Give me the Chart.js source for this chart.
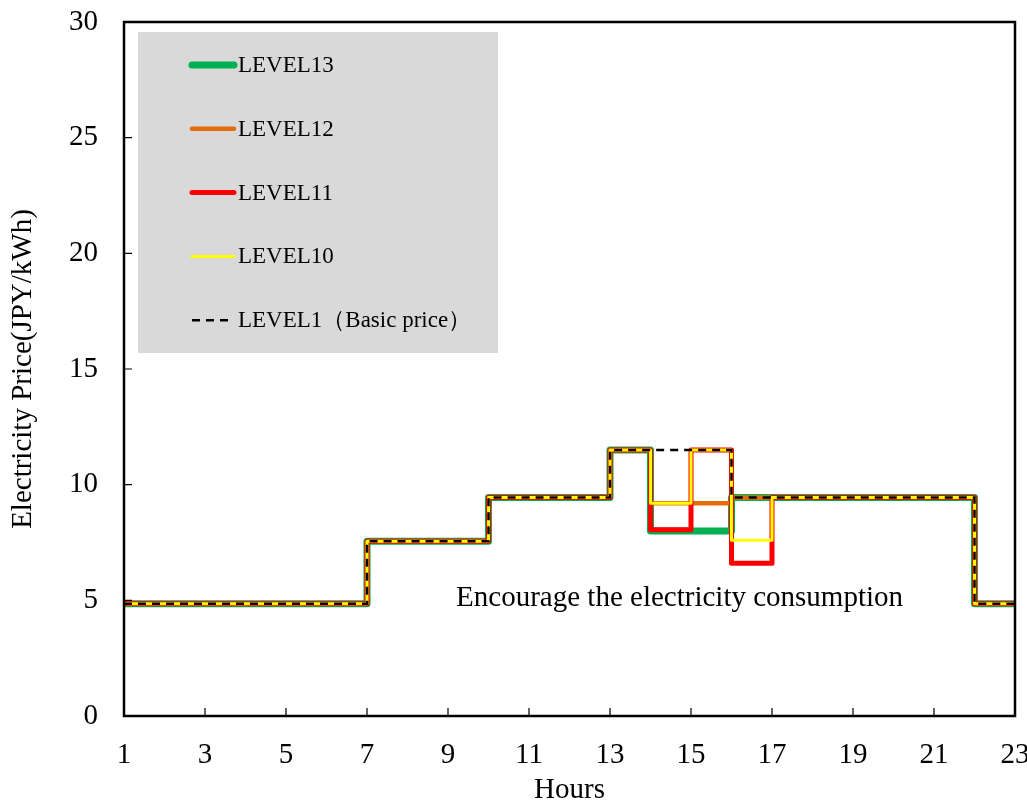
<!DOCTYPE html>
<html>
<head>
<meta charset="utf-8">
<script src="https://cdn.jsdelivr.net/npm/chart.js@4.4.2/dist/chart.umd.min.js"></script>
<style>
  html, body { margin: 0; padding: 0; background: #fff; }
</style>
</head>
<body>
<canvas id="priceChart" width="1027" height="802"></canvas>
<script>
const serif = "'Liberation Serif', 'Times New Roman', serif";

const hours = [1, 2, 3, 4, 5, 6, 7, 8, 9, 10, 11, 12, 13, 14, 15, 16, 17, 18, 19, 20, 21, 22, 23];
// price from each hour until the next one
const level13 = [4.85, 4.85, 4.85, 4.85, 4.85, 4.85, 7.55, 7.55, 7.55, 9.45, 9.45, 9.45, 11.5, 8.0, 8.0, 9.45, 9.45, 9.45, 9.45, 9.45, 9.45, 4.85, 4.85];
const level12 = [4.85, 4.85, 4.85, 4.85, 4.85, 4.85, 7.55, 7.55, 7.55, 9.45, 9.45, 9.45, 11.5, 9.2, 9.2, 9.45, 9.45, 9.45, 9.45, 9.45, 9.45, 4.85, 4.85];
const level11 = [4.85, 4.85, 4.85, 4.85, 4.85, 4.85, 7.55, 7.55, 7.55, 9.45, 9.45, 9.45, 11.5, 8.05, 11.5, 6.6, 9.45, 9.45, 9.45, 9.45, 9.45, 4.85, 4.85];
const level10 = [4.85, 4.85, 4.85, 4.85, 4.85, 4.85, 7.55, 7.55, 7.55, 9.45, 9.45, 9.45, 11.5, 9.2, 11.5, 7.6, 9.45, 9.45, 9.45, 9.45, 9.45, 4.85, 4.85];
const level1 = [4.85, 4.85, 4.85, 4.85, 4.85, 4.85, 7.55, 7.55, 7.55, 9.45, 9.45, 9.45, 11.5, 11.5, 11.5, 9.45, 9.45, 9.45, 9.45, 9.45, 9.45, 4.85, 4.85];

const seriesLabels = ['LEVEL13', 'LEVEL12', 'LEVEL11', 'LEVEL10', 'LEVEL1（Basic price）'];
const xTicks = [1, 3, 5, 7, 9, 11, 13, 15, 17, 19, 21, 23];
const yTicks = [0, 5, 10, 15, 20, 25, 30];

const noteText = 'Encourage the electricity consumption';
const noteAt = { x: 9.2, y: 5.1 };

const toPoints = values => values.map((v, i) => ({ x: hours[i], y: v }));

const stepLine = (label, values, color, width, order, dash) => ({
  label: label,
  data: toPoints(values),
  borderColor: color,
  backgroundColor: color,
  borderWidth: width,
  borderDash: dash || [],
  borderJoinStyle: dash ? 'miter' : 'round',
  stepped: 'before',
  pointRadius: 0,
  fill: false,
  order: order
});

// legend inside the plot, grey box top-left
const legendBox = {
  id: 'legendBox',
  afterDatasetsDraw(chart) {
    const { ctx, chartArea } = chart;
    const x0 = chartArea.left + 14;
    const y0 = chartArea.top + 10;
    ctx.save();
    ctx.fillStyle = '#d9d9d9';
    ctx.fillRect(x0, y0, 360, 321);
    chart.data.datasets.forEach((ds, i) => {
      const y = y0 + 33 + i * 63.8;
      ctx.beginPath();
      ctx.strokeStyle = ds.borderColor;
      ctx.lineWidth = ds.borderWidth;
      ctx.setLineDash(ds.borderDash);
      ctx.lineCap = ds.borderDash.length ? 'butt' : 'round';
      ctx.moveTo(x0 + 54, y);
      ctx.lineTo(x0 + 96, y);
      ctx.stroke();
      ctx.setLineDash([]);
      ctx.fillStyle = '#000';
      ctx.font = '23px ' + serif;
      ctx.textAlign = 'left';
      ctx.textBaseline = 'middle';
      ctx.fillText(ds.label, x0 + 100, y + 1);
    });
    ctx.restore();
  }
};

// frame round the plot, inward tick marks, text note
const frameAndNote = {
  id: 'frameAndNote',
  afterDraw(chart) {
    const { ctx, chartArea, scales } = chart;
    ctx.save();
    ctx.strokeStyle = '#000';
    ctx.lineWidth = 1.2;
    ctx.beginPath();
    scales.x.ticks.forEach(t => {
      const px = scales.x.getPixelForValue(t.value);
      ctx.moveTo(px, chartArea.bottom);
      ctx.lineTo(px, chartArea.bottom - 8);
    });
    scales.y.ticks.forEach(t => {
      const py = scales.y.getPixelForValue(t.value);
      ctx.moveTo(chartArea.left, py);
      ctx.lineTo(chartArea.left + 8, py);
    });
    ctx.stroke();

    ctx.lineWidth = 2.5;
    ctx.strokeRect(chartArea.left, chartArea.top, chartArea.right - chartArea.left, chartArea.bottom - chartArea.top);

    ctx.fillStyle = '#000';
    ctx.font = '29px ' + serif;
    ctx.textAlign = 'left';
    ctx.textBaseline = 'middle';
    ctx.fillText(noteText, scales.x.getPixelForValue(noteAt.x), scales.y.getPixelForValue(noteAt.y));
    ctx.restore();
  }
};

new Chart(document.getElementById('priceChart'), {
  type: 'line',
  data: {
    datasets: [
      stepLine(seriesLabels[0], level13, '#00b050', 7, 4),
      stepLine(seriesLabels[1], level12, '#e46c0a', 4.5, 3),
      stepLine(seriesLabels[2], level11, '#ff0000', 5, 2),
      stepLine(seriesLabels[3], level10, '#ffff00', 3, 1),
      stepLine(seriesLabels[4], level1, '#000000', 2.5, 0, [8, 6])
    ]
  },
  options: {
    responsive: false,
    animation: false,
    layout: {
      padding: { top: 22, right: 12, bottom: 0, left: 0 }
    },
    plugins: {
      legend: { display: false },
      tooltip: { enabled: false }
    },
    scales: {
      x: {
        type: 'linear',
        min: 1,
        max: 23,
        afterBuildTicks: scale => {
          scale.ticks = xTicks.map(v => ({ value: v }));
        },
        afterFit: scale => {
          scale.height = 86;
          scale.paddingLeft = 0;
          scale.paddingRight = 0;
        },
        grid: { display: false, drawTicks: false },
        border: { display: false },
        ticks: {
          color: '#000',
          padding: 22,
          maxRotation: 0,
          autoSkip: false,
          font: { family: serif, size: 29 }
        },
        title: {
          display: true,
          text: 'Hours',
          color: '#000',
          padding: { top: 0, bottom: -3 },
          font: { family: serif, size: 29, lineHeight: 1 }
        }
      },
      y: {
        min: 0,
        max: 30,
        afterBuildTicks: scale => {
          scale.ticks = yTicks.map(v => ({ value: v }));
        },
        afterFit: scale => {
          scale.width = 124;
          scale.paddingTop = 0;
          scale.paddingBottom = 0;
        },
        grid: { display: false, drawTicks: false },
        border: { display: false },
        ticks: {
          color: '#000',
          padding: 26,
          font: { family: serif, size: 29 }
        },
        title: {
          display: true,
          text: 'Electricity Price(JPY/kWh)',
          color: '#000',
          padding: { top: 9, bottom: 0 },
          font: { family: serif, size: 29, lineHeight: 1 }
        }
      }
    }
  },
  plugins: [legendBox, frameAndNote]
});
</script>
</body>
</html>
